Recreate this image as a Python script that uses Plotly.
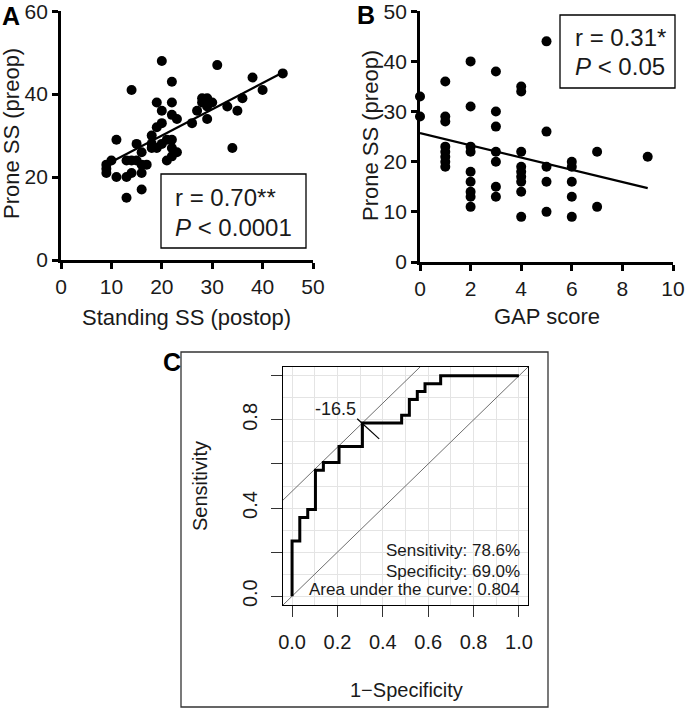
import plotly.graph_objects as go

# Panel A: standing SS (postop) vs prone SS (preop)
a_standing = [20, 31, 44, 38, 22, 14, 40, 36, 28, 29, 30, 29, 19, 22, 33, 27, 35, 20,
              22, 23, 29, 26, 20, 19, 18, 11, 15, 18, 20, 22, 34, 18, 19, 22, 22, 23,
              21, 16, 15, 13, 16, 17, 14, 10, 9, 9, 9, 11, 13, 14, 16, 13, 16, 21, 28]
a_prone = [48, 47, 45, 44, 43, 41, 41, 39, 39, 39, 38, 37, 38, 38, 37, 36, 36, 36,
           35, 34, 34, 33, 33, 32, 30, 29, 28, 28, 28, 29, 27, 27, 27, 27, 25, 26,
           24, 26, 24, 24, 23, 23, 24, 24, 23, 22, 21, 20, 20, 21, 21, 15, 17, 29, 38]
a_fit = (0.634, 17.3)  # slope, intercept
a_text = ["r = 0.70**", "<i>P</i> < 0.0001"]

# Panel B: GAP score vs prone SS (preop)
b_gap = [0, 0,
         1, 1, 1, 1, 1, 1, 1, 1,
         2, 2, 2, 2, 2, 2, 2, 2, 2,
         3, 3, 3, 3, 3, 3, 3,
         4, 4, 4, 4, 4, 4, 4, 4, 4,
         5, 5, 5, 5, 5,
         6, 6, 6, 6, 6,
         7, 7,
         9]
b_prone = [33, 29,
           36, 29, 28, 23, 22, 21, 20, 19,
           40, 31, 23, 22, 18, 16, 14, 13, 11,
           38, 30, 27, 22, 20, 15, 13,
           35, 34, 22, 19, 18, 17, 16, 14, 9,
           44, 26, 19, 16, 10,
           20, 19, 16, 13, 9,
           22, 11,
           21]
b_fit = (-1.22, 25.7)
b_text = ["r = 0.31*", "<i>P</i> < 0.05"]

# Panel C: ROC curve
roc_fpr = [0.0, 0.034, 0.069, 0.103, 0.138, 0.207, 0.310, 0.483, 0.517, 0.552, 0.586, 0.655, 1.0]
roc_tpr = [0.0, 0.250, 0.357, 0.393, 0.571, 0.607, 0.679, 0.786, 0.821, 0.893, 0.929, 0.964, 1.0]
best_fpr, best_tpr = 0.310, 0.786
thr_label = "-16.5"
thr_mark_x = [0.287, 0.384]
thr_mark_y = [0.805, 0.714]
roc_text = ["Sensitivity: 78.6%", "Specificity: 69.0%", "Area under the curve: 0.804"]

W, H = 685, 713
FONT = "Liberation Sans, Arial, sans-serif"
INK = "#1a1a1a"


def px(p):
    return p / W


def py(p):
    return 1 - p / H


fig = go.Figure()

# --- A ---
fig.add_trace(go.Scatter(x=a_standing, y=a_prone, mode="markers", xaxis="x", yaxis="y",
                         marker=dict(size=10, color="black"), cliponaxis=False))
xa = [min(a_standing), max(a_standing)]
fig.add_trace(go.Scatter(x=xa, y=[a_fit[0] * v + a_fit[1] for v in xa], mode="lines",
                         xaxis="x", yaxis="y", line=dict(color="black", width=2.2)))

# --- B ---
fig.add_trace(go.Scatter(x=b_gap, y=b_prone, mode="markers", xaxis="x2", yaxis="y2",
                         marker=dict(size=10, color="black"), cliponaxis=False))
xb = [min(b_gap), max(b_gap)]
fig.add_trace(go.Scatter(x=xb, y=[b_fit[0] * v + b_fit[1] for v in xb], mode="lines",
                         xaxis="x2", yaxis="y2", line=dict(color="black", width=2.2)))

# --- C ---
fig.add_trace(go.Scatter(x=[-0.04, 1.04], y=[-0.04, 1.04], mode="lines", xaxis="x3", yaxis="y3",
                         line=dict(color="#6e6e6e", width=1)))
off = best_tpr - best_fpr
fig.add_trace(go.Scatter(x=[-0.04, 1.04], y=[-0.04 + off, 1.04 + off], mode="lines",
                         xaxis="x3", yaxis="y3", line=dict(color="#6e6e6e", width=1)))
fig.add_trace(go.Scatter(x=roc_fpr, y=roc_tpr, mode="lines", xaxis="x3", yaxis="y3",
                         line=dict(color="black", width=3, shape="vh")))
fig.add_trace(go.Scatter(x=thr_mark_x, y=thr_mark_y, mode="lines", xaxis="x3", yaxis="y3",
                         line=dict(color="black", width=1.2)))

scatter_axis = dict(showline=True, linecolor="black", linewidth=2.7, ticks="outside",
                    ticklen=6, tickwidth=2.5, tickcolor="black", showgrid=False,
                    zeroline=False, automargin=False, ticklabeloverflow="allow",
                    tickfont=dict(family=FONT, size=21, color=INK))
roc_axis = dict(showline=True, mirror=True, linecolor="black", linewidth=1,
                ticks="outside", ticklen=11, tickwidth=1, tickcolor="#333",
                showgrid=True, gridcolor="#e4e4e4", gridwidth=1, zeroline=False,
                automargin=False, ticklabeloverflow="allow",
                range=[-0.04, 1.04], tickvals=[0, 0.2, 0.4, 0.6, 0.8, 1.0],
                minor=dict(tick0=0, dtick=0.1, showgrid=True, gridcolor="#e4e4e4", ticks=""),
                tickfont=dict(family=FONT, size=20, color=INK))

fig.update_layout(
    width=W, height=H, margin=dict(l=0, r=0, t=0, b=0, autoexpand=False),
    paper_bgcolor="white", plot_bgcolor="white", showlegend=False,
    xaxis=dict(scatter_axis, domain=[px(61), px(313)], range=[0, 50], tickvals=[0, 10, 20, 30, 40, 50], anchor="y"),
    yaxis=dict(scatter_axis, domain=[py(260), py(11)], range=[0, 60.05], tickvals=[0, 20, 40, 60], anchor="x"),
    xaxis2=dict(scatter_axis, domain=[px(420), px(673)], range=[0, 10], tickvals=[0, 2, 4, 6, 8, 10], anchor="y2"),
    yaxis2=dict(scatter_axis, domain=[py(262), py(11)], range=[0, 50.05], tickvals=[0, 10, 20, 30, 40, 50], anchor="x2"),
    xaxis3=dict(roc_axis, domain=[px(283), px(528)], anchor="y3", ticklabelstandoff=8,
                ticktext=["0.0", "0.2", "0.4", "0.6", "0.8", "1.0"]),
    yaxis3=dict(roc_axis, domain=[py(605), py(367)], anchor="x3", tickangle=-90,
                ticklabelstandoff=6, ticktext=["0.0", "", "0.4", "", "0.8", ""]),
)

ann = []


def label(x, y, text, size, color=INK, xanchor="center", **kw):
    ann.append(dict(x=px(x), y=py(y), xref="paper", yref="paper", text=text, showarrow=False,
                    xanchor=xanchor, yanchor="middle",
                    font=dict(family=FONT, size=size, color=color), **kw))


# panel letters
label(11, 16, "<b>A</b>", 25, color="black")
label(366, 15, "<b>B</b>", 25, color="black")
label(172, 362, "<b>C</b>", 25, color="black")

# axis titles
label(187, 318, "Standing SS (postop)", 22)
label(12, 134, "Prone SS (preop)", 22, textangle=-90)
label(547, 316, "GAP score", 22)
label(370, 136, "Prone SS (preop)", 22, textangle=-90)
label(406, 690, "1−Specificity", 20)
label(200, 486, "Sensitivity", 20, textangle=-90)

# stat boxes
label(173, 198, a_text[0], 24, xanchor="left")
label(173, 227, a_text[1], 24, xanchor="left")
label(573, 38, b_text[0], 24, xanchor="left")
label(573, 67, b_text[1], 24, xanchor="left")

# ROC annotations
ann.append(dict(x=0.19, y=0.85, xref="x3", yref="y3", text=thr_label, showarrow=False,
                xanchor="center", yanchor="middle",
                font=dict(family=FONT, size=18, color=INK)))
for t, yy in zip(roc_text, [0.208, 0.110, 0.032]):
    ann.append(dict(x=1.012, y=yy, xref="x3", yref="y3", text=t, showarrow=False,
                    xanchor="right", yanchor="middle",
                    font=dict(family=FONT, size=17, color=INK)))

fig.update_layout(annotations=ann)

shapes = [
    dict(type="rect", xref="paper", yref="paper", x0=px(161), x1=px(306), y0=py(248), y1=py(174),
         line=dict(color="black", width=1.3)),
    dict(type="rect", xref="paper", yref="paper", x0=px(560), x1=px(675), y0=py(88), y1=py(15),
         line=dict(color="black", width=1.3)),
    dict(type="rect", xref="paper", yref="paper", x0=px(181), x1=px(548), y0=py(707), y1=py(352),
         line=dict(color="#333", width=1.3)),
]
fig.update_layout(shapes=shapes)

# the page body has a default 8px margin; drop it so the figure sits at the window origin
fig.write_html("out.html", config={"displayModeBar": False},
               post_script="document.body.style.margin='0px';")
